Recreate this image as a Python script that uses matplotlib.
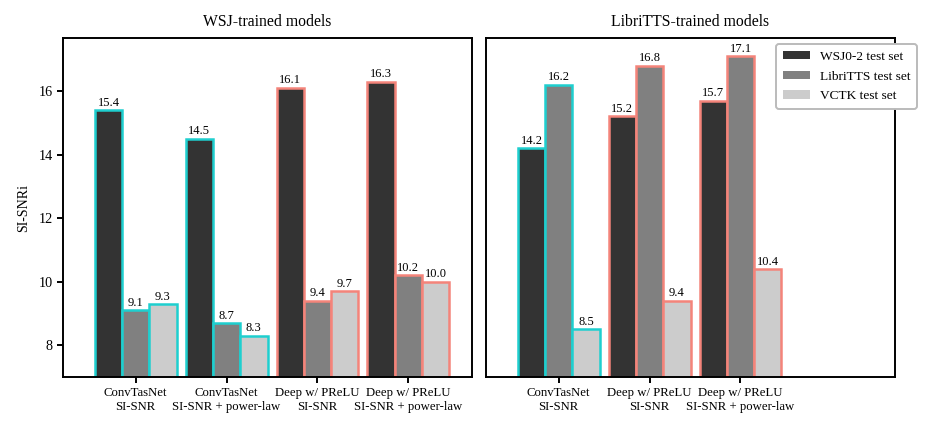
import matplotlib
matplotlib.use("Agg")
import matplotlib.pyplot as plt
import numpy as np

plt.rcParams['font.family'] = ['Liberation Serif', 'DejaVu Serif']
plt.rcParams['mathtext.fontset'] = 'stix'

series_names = ["WSJ0-2 test set", "LibriTTS test set", "VCTK test set"]
face_colors = ["#333333", "#808080", "#cccccc"]

wsj_categories = ["ConvTasNet\nSI-SNR", "ConvTasNet\nSI-SNR + power-law",
                  "Deep w/ PReLU\nSI-SNR", "Deep w/ PReLU\nSI-SNR + power-law"]
wsj_wsj0 = [15.4, 14.5, 16.1, 16.3]
wsj_libri = [9.1, 8.7, 9.4, 10.2]
wsj_vctk = [9.3, 8.3, 9.7, 10.0]
wsj_edges = ["#1ecfcf", "#1ecfcf", "#f4847a", "#f4847a"]

lib_categories = ["ConvTasNet\nSI-SNR", "Deep w/ PReLU\nSI-SNR",
                  "Deep w/ PReLU\nSI-SNR + power-law"]
lib_wsj0 = [14.2, 15.2, 15.7]
lib_libri = [16.2, 16.8, 17.1]
lib_vctk = [8.5, 9.4, 10.4]
lib_edges = ["#1ecfcf", "#f4847a", "#f4847a"]

fig = plt.figure(figsize=(9.32, 4.30), dpi=100)
axL = fig.add_axes([63/932, 53/430, 409/932, 339/430])
axR = fig.add_axes([486/932, 53/430, 409/932, 339/430], sharey=axL)

width = 0.3

def draw(ax, cats, vals, edges, title):
    x = np.arange(len(cats))
    for i, (v, fc) in enumerate(zip(vals, face_colors)):
        bars = ax.bar(x + (i - 1) * width, v, width, color=fc, edgecolor=edges,
                      linewidth=1.8, label=series_names[i])
        ax.bar_label(bars, labels=[f"{t:.1f}" for t in v], padding=1, fontsize=9)
    ax.set_xticks(x)
    ax.set_xticklabels(cats, fontsize=9.2)
    ax.set_xlim(-0.8, 3.7)
    ax.set_title(title, fontsize=11.3, pad=9)
    for s in ax.spines.values():
        s.set_linewidth(1.4)
    ax.tick_params(axis='both', width=1.4, length=4, labelsize=9.2)

draw(axL, wsj_categories, [wsj_wsj0, wsj_libri, wsj_vctk], wsj_edges, "WSJ-trained models")
draw(axR, lib_categories, [lib_wsj0, lib_libri, lib_vctk], lib_edges, "LibriTTS-trained models")

axL.set_ylim(7.0, 17.67)
axL.set_yticks([8, 10, 12, 14, 16])
axL.tick_params(axis='y', labelsize=10.2)
axL.set_ylabel("SI-SNRi", fontsize=10, labelpad=6)
axR.tick_params(axis='y', left=False, labelleft=False)

leg = axR.legend(loc='upper right', fontsize=9.6, frameon=True, fancybox=True,
                 bbox_to_anchor=(1.054, 0.982), borderaxespad=0,
                 handlelength=2.0, handleheight=0.6, handletextpad=0.75,
                 borderpad=0.5, labelspacing=0.58)
for h in leg.legend_handles:
    h.set_edgecolor('none')
leg.get_frame().set_edgecolor('#bbbbbb')
leg.get_frame().set_linewidth(1.4)
leg.get_frame().set_alpha(1)

fig.savefig("out.png", dpi=100)
